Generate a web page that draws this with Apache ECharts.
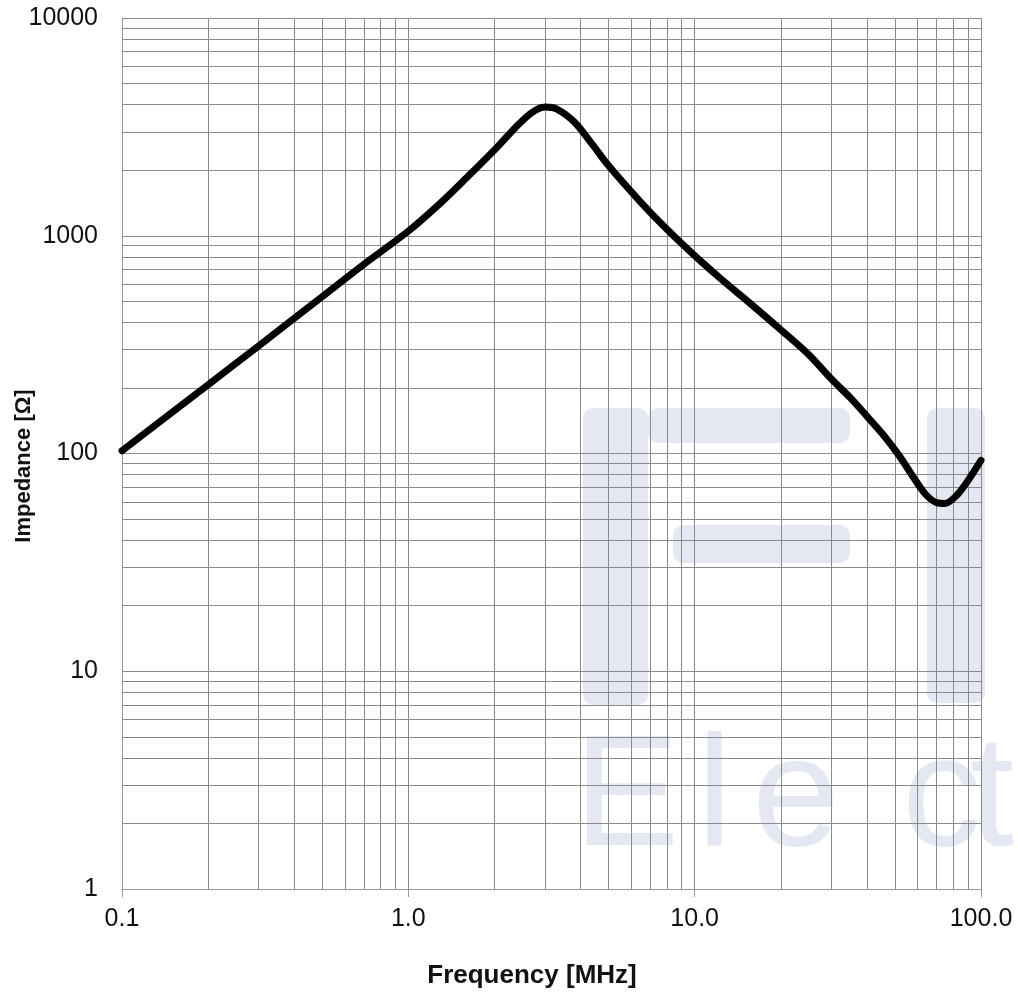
<!DOCTYPE html>
<html>
<head>
<meta charset="utf-8">
<title>Impedance vs Frequency</title>
<script src="https://cdn.jsdelivr.net/npm/echarts@6/dist/echarts.min.js"></script>
<style>
  html, body { margin: 0; padding: 0; background: #fff; }
  #main { width: 1018px; height: 996px; }
</style>
</head>
<body>
<div id="main"></div>
<script>
// frequency in MHz, impedance in ohm
const freq = [0.1, 0.2, 0.3, 0.5, 0.7, 1.0, 1.3, 1.6, 2.0, 2.4, 2.7, 3.0, 3.3, 3.8, 4.4, 5.0, 6.5, 8.0, 10, 12.5, 15.6, 20, 25, 30, 35, 40, 46, 52, 58, 64, 70, 75, 82, 90, 100]
const impedance = [103, 207, 312, 525, 740, 1050, 1420, 1850, 2480, 3200, 3680, 3900, 3820, 3330, 2620, 2100, 1420, 1070, 810, 625, 490, 370, 285, 220, 180, 148, 120, 97, 78, 65, 59.5, 59, 64, 75, 93]

// minor grid lines at 2..9 of every decade
const xDecades = [0.1, 1, 10]
const yDecades = [1, 10, 100, 1000]
const minorSteps = [2, 3, 4, 5, 6, 7, 8, 9]

const gridGray = '#8a8a8a'
// translucent so the grid shows through the watermark
const wmColor = 'rgba(120, 140, 190, 0.2)'

let minorLines = []
xDecades.forEach(function (d) {
  minorSteps.forEach(function (m) { minorLines.push({ xAxis: +(d * m).toFixed(2) }) })
})
yDecades.forEach(function (d) {
  minorSteps.forEach(function (m) { minorLines.push({ yAxis: d * m }) })
})

let myChart = echarts.init(document.getElementById('main'))

let wmRect = function (x, y, w, h) {
  return {
    type: 'rect', silent: true,
    shape: { x: x, y: y, width: w, height: h, r: 10 },
    style: { fill: wmColor }
  }
}
let wmLetter = function (ch, x) {
  return {
    type: 'text', silent: true, x: x, y: 880,
    style: {
      text: ch, fill: wmColor, font: '158px "Liberation Sans", Arial, sans-serif',
      textAlign: 'left', textVerticalAlign: 'bottom'
    }
  }
}

let option = {
  animation: false,
  backgroundColor: '#fff',
  grid: { left: 122, right: 37, top: 18, bottom: 107, containLabel: false },
  graphic: [
    wmRect(583, 408, 65, 297),
    wmRect(648, 408, 202, 35),
    wmRect(673, 525, 177, 38),
    wmRect(927, 408, 58, 295),
    wmLetter('E', 574),
    wmLetter('l', 697),
    wmLetter('e', 752),
    wmLetter('c', 902),
    wmLetter('t', 970),
    {
      type: 'text', x: 532, y: 976,
      style: {
        text: 'Frequency [MHz]', fill: '#111',
        font: 'bold 26px "Liberation Sans", Arial, sans-serif',
        textAlign: 'center', textVerticalAlign: 'middle'
      }
    },
    {
      type: 'text', x: 24, y: 466, rotation: Math.PI / 2,
      style: {
        text: 'Impedance [Ω]', fill: '#111',
        font: 'bold 22px "Liberation Sans", Arial, sans-serif',
        textAlign: 'center', textVerticalAlign: 'middle'
      }
    }
  ],
  xAxis: {
    type: 'log',
    logBase: 10,
    min: 0.1,
    max: 100,
    interval: 1,
    axisLine: { show: true, lineStyle: { color: '#999', width: 1 } },
    axisTick: { show: true, length: 8, inside: false, lineStyle: { color: '#999' } },
    axisLabel: {
      margin: 18,
      color: '#111',
      fontSize: 25,
      fontFamily: '"Liberation Sans", Arial, sans-serif',
      formatter: function (v) { return v.toFixed(1) }
    },
    splitLine: { show: true, lineStyle: { color: gridGray, width: 1 } }
  },
  yAxis: {
    type: 'log',
    logBase: 10,
    min: 1,
    max: 10000,
    interval: 1,
    axisLine: { show: true, lineStyle: { color: '#999', width: 1 } },
    axisTick: { show: false },
    axisLabel: {
      margin: 24,
      color: '#111',
      fontSize: 25,
      fontFamily: '"Liberation Sans", Arial, sans-serif',
      formatter: function (v) { return String(Math.round(v)) }
    },
    splitLine: { show: true, lineStyle: { color: gridGray, width: 1 } }
  },
  series: [
    {
      name: 'minor grid',
      type: 'line',
      data: [],
      z: 2,
      silent: true,
      markLine: {
        z: 2,
        silent: true,
        symbol: 'none',
        label: { show: false },
        emphasis: { disabled: true },
        lineStyle: { color: gridGray, width: 1, type: 'solid' },
        data: minorLines
      }
    },
    {
      name: 'Impedance',
      type: 'line',
      z: 4,
      data: freq.map(function (f, i) { return [f, impedance[i]] }),
      smooth: 0.3,
      showSymbol: false,
      lineStyle: { color: '#000', width: 7, cap: 'round', join: 'round' }
    }
  ]
}
myChart.setOption(option)
</script>
</body>
</html>
